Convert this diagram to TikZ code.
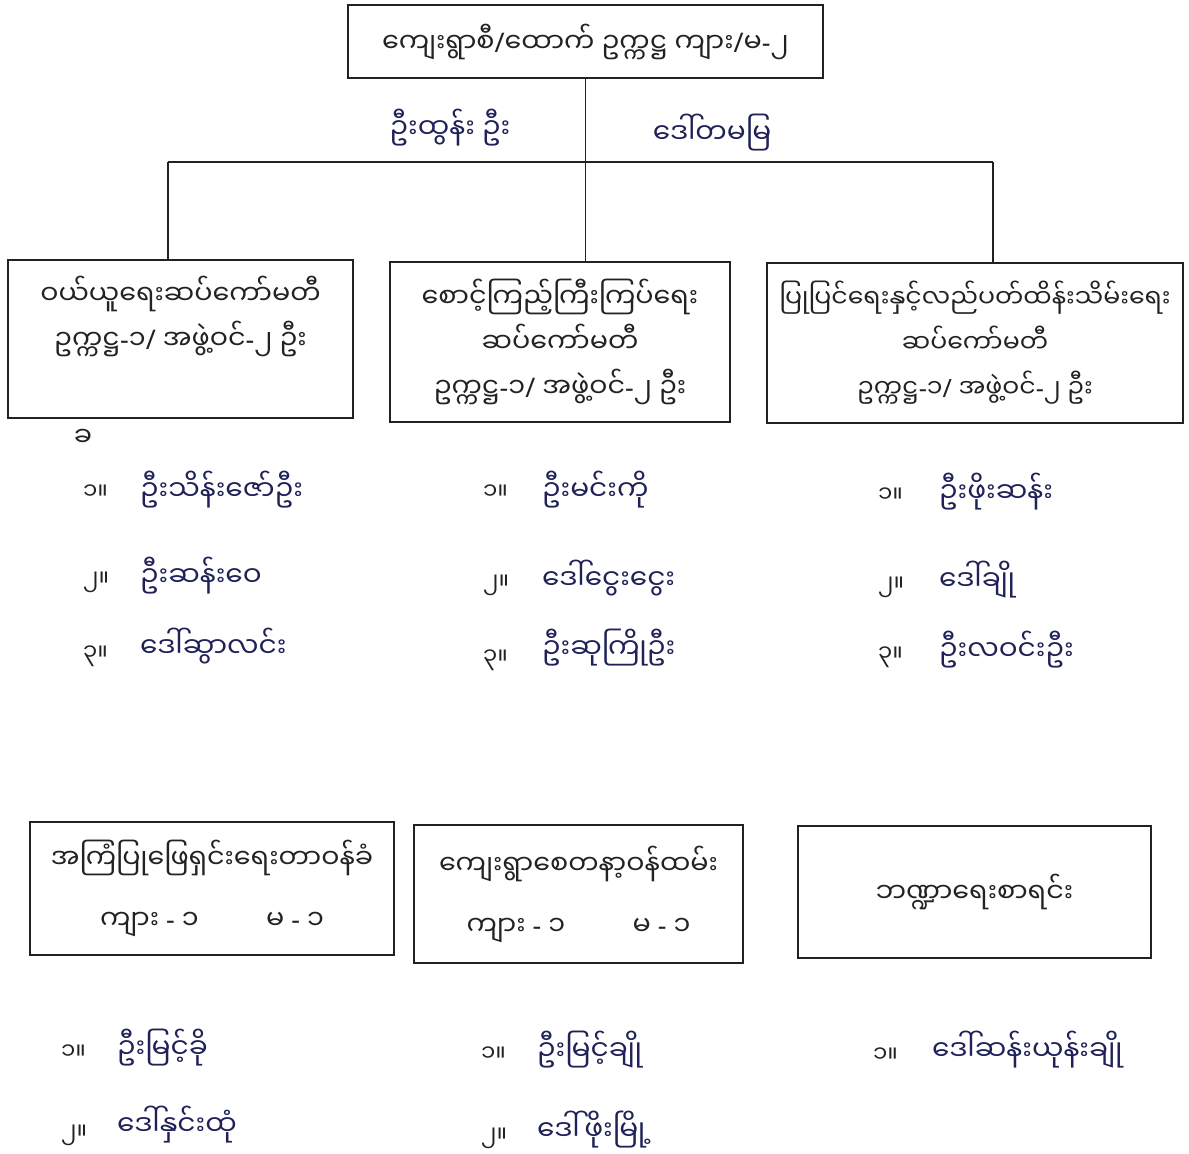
\documentclass[tikz,border=0pt]{standalone}
\usepackage{fontspec}
\usepackage{tikz}
\usetikzlibrary{positioning}
\newfontfamily\mmfont[Script=Myanmar]{Noto Sans Myanmar UI}
\newfontfamily\latinfont{Noto Sans}
\newcommand\mmslash{{\latinfont /}}
\newcommand\mmdash{{\latinfont -}}
\definecolor{ink}{HTML}{1E2257}
\definecolor{rule}{HTML}{222222}

\begin{document}
\begin{tikzpicture}[x=0.5pt,y=-0.5pt,
  box/.style={draw=rule, line width=0.75pt, inner sep=0pt},
  title/.style={font=\mmfont\fontsize{13.5}{22.5}\selectfont, align=center, text=rule},
  hand/.style={font=\mmfont\fontsize{14}{16}\selectfont, text=ink},
  num/.style={font=\mmfont\fontsize{11.5}{14}\selectfont, text=rule, anchor=west},
  line/.style={draw=rule, line width=0.75pt}]

\useasboundingbox (0,0) rectangle (1189,1153);

% Chairman
\node[box, title, minimum width=237.5pt, minimum height=36.5pt] (top) at (585.5,41.5) {ကျေးရွာစီ\mmslash ထောက် ဥက္ကဋ္ဌ ကျား\mmslash မ\mmdash ၂};
\node[hand] (dep1) at (450,128) {ဦးထွန်း ဦး};
\node[hand] (dep2) at (712,133) {ဒေါ်တမမြ};

% Committees
\node[box, minimum width=172.5pt, minimum height=79pt] (wy) at (180.5,339) {};
\node[title] (wytxt) at (180.5,316) {ဝယ်ယူရေးဆပ်ကော်မတီ\\ဥက္ကဋ္ဌ\mmdash ၁\mmslash\ အဖွဲ့ဝင်\mmdash ၂ ဦး};
\node[box, title, minimum width=170pt, minimum height=80pt] (sm) at (560,342) {စောင့်ကြည့်ကြီးကြပ်ရေး\\ဆပ်ကော်မတီ\\ဥက္ကဋ္ဌ\mmdash ၁\mmslash\ အဖွဲ့ဝင်\mmdash ၂ ဦး};
\node[box, title, font=\mmfont\fontsize{12.6}{22.5}\selectfont, minimum width=208pt, minimum height=80pt] (pp) at (975,343) {ပြုပြင်ရေးနှင့်လည်ပတ်ထိန်းသိမ်းရေး\\ဆပ်ကော်မတီ\\ဥက္ကဋ္ဌ\mmdash ၁\mmslash\ အဖွဲ့ဝင်\mmdash ၂ ဦး};
\node[title] (mark) at (83,438) {ခ};

% Lines
\coordinate (bus) at (top.south |- 0,162);
\coordinate (busL) at (168,162);
\coordinate (busR) at (993,162);
\draw[line] (top.south) -- (bus);
\draw[line] (busL) -- (busR);
\draw[line] (busL) -- (busL |- wy.north);
\draw[line] (bus) -- (bus |- sm.north);
\draw[line] (busR) -- (busR |- pp.north);

% Members
\node[num] (a1) at (76,492) {၁။}; \node[hand, anchor=west] (wa1) at (133,490) {ဦးသိန်းဇော်ဦး};
\node[num] (a2) at (76,582) {၂။}; \node[hand, anchor=west] (wa2) at (133,576) {ဦးဆန်းဝေ};
\node[num] (a3) at (76,656) {၃။}; \node[hand, anchor=west] (wa3) at (133,646) {ဒေါ်ဆွာလင်း};
\node[num] (b1) at (476,492) {၁။}; \node[hand, anchor=west] (sb1) at (535,490) {ဦးမင်းကို};
\node[num] (b2) at (476,585) {၂။}; \node[hand, anchor=west] (sb2) at (535,578) {ဒေါ်ငွေးငွေး};
\node[num] (b3) at (476,660) {၃။}; \node[hand, anchor=west] (sb3) at (535,648) {ဦးဆုကြိုဦး};
\node[num] (c1) at (871,495) {၁။}; \node[hand, anchor=west] (pc1) at (932,492) {ဦးဖိုးဆန်း};
\node[num] (c2) at (871,587) {၂။}; \node[hand, anchor=west] (pc2) at (932,580) {ဒေါ်ချို};
\node[num] (c3) at (871,657) {၃။}; \node[hand, anchor=west] (pc3) at (932,650) {ဦးလဝင်းဦး};

% Other posts
\node[box, title, minimum width=182pt, minimum height=66.5pt] (ak) at (212,888.5) {အကြံပြုဖြေရှင်းရေးတာဝန်ခံ\\[8pt]ကျား \mmdash\ ၁\hspace{2.5em}မ \mmdash\ ၁};
\node[box, title, minimum width=164.5pt, minimum height=69pt] (kr) at (578.5,894) {ကျေးရွာစေတနာ့ဝန်ထမ်း\\[8pt]ကျား \mmdash\ ၁\hspace{2.5em}မ \mmdash\ ၁};
\node[box, title, minimum width=176.5pt, minimum height=66pt] (bk) at (974.5,892) {ဘဏ္ဍာရေးစာရင်း};

\node[num] (d1) at (54,1052) {၁။}; \node[hand, anchor=west] (ad1) at (110,1048) {ဦးမြင့်ခို};
\node[num] (d2) at (54,1135) {၂။}; \node[hand, anchor=west] (ad2) at (110,1125) {ဒေါ်နှင်းထုံ};
\node[num] (e1) at (474,1054) {၁။}; \node[hand, anchor=west] (ke1) at (530,1050) {ဦးမြင့်ချို};
\node[num] (e2) at (474,1138) {၂။}; \node[hand, anchor=west] (ke2) at (530,1130) {ဒေါ်ဖိုးမြို့};
\node[num] (f1) at (866,1055) {၁။}; \node[hand, anchor=west] (bf1) at (925,1050) {ဒေါ်ဆန်းယုန်းချို};
\end{tikzpicture}
\end{document}
